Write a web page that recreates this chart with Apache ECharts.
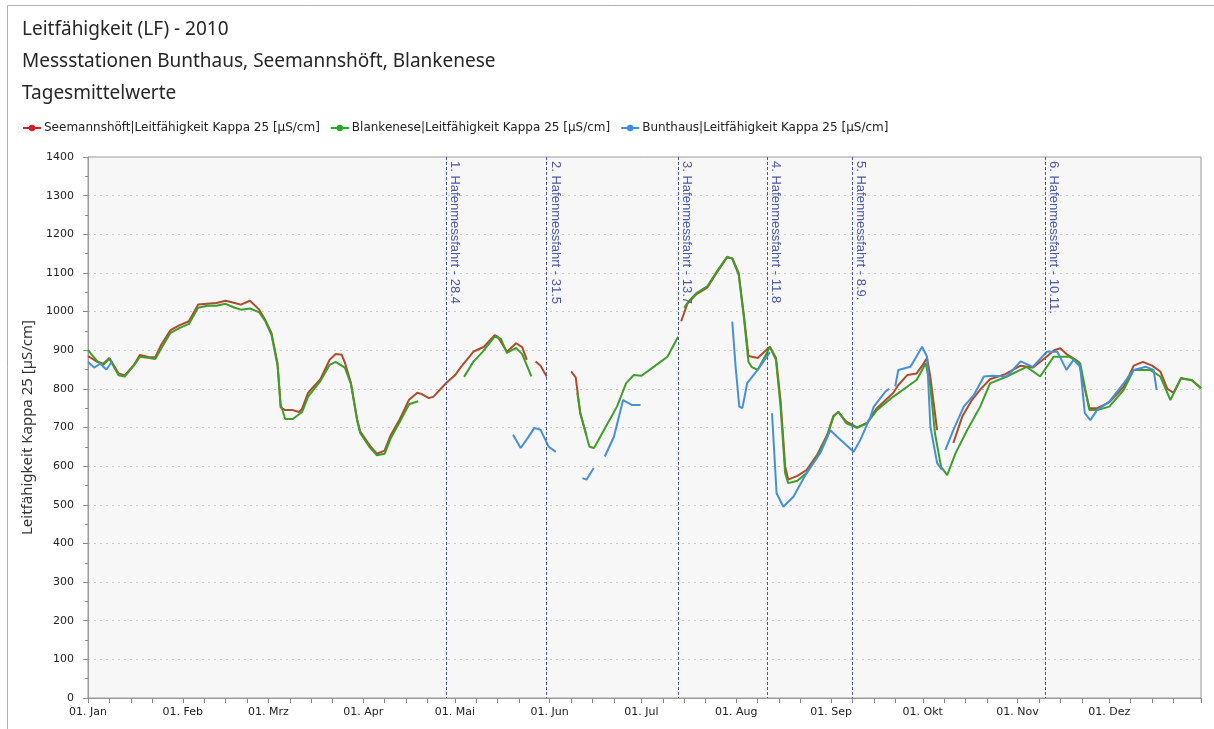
<!DOCTYPE html>
<html>
<head>
<meta charset="utf-8">
<title>Leitfähigkeit (LF) - 2010</title>
<script src="https://cdn.jsdelivr.net/npm/echarts@6/dist/echarts.min.js"></script>
<style>
  html, body { margin: 0; padding: 0; background: #ffffff; }
  #chart { width: 1214px; height: 729px; }
</style>
</head>
<body>
<div id="chart"></div>
<script>
// x values are days since 1 January 2010 (0 = 01. Jan); null breaks a line where no data exist
const monthStarts = [0, 31, 59, 90, 120, 151, 181, 212, 243, 273, 304, 334];
const monthLabels = ['01. Jan', '01. Feb', '01. Mrz', '01. Apr', '01. Mai', '01. Jun',
                     '01. Jul', '01. Aug', '01. Sep', '01. Okt', '01. Nov', '01. Dez'];

const seriesNames = [
  'Seemannshöft|Leitfähigkeit Kappa 25 [µS/cm]',
  'Blankenese|Leitfähigkeit Kappa 25 [µS/cm]',
  'Bunthaus|Leitfähigkeit Kappa 25 [µS/cm]'
];

// Seemannshöft
const seemDays = [0, 3, 5, 7, 10, 12, 15, 17, 20, 22, 24, 27, 30, 33, 36, 39, 42, 45, 48, 50, 53, 56, 58, 60, 62, 63,
  64.5, 67, 69, 70, 72, 76, 79, 81, 83, 84, 86, 88, 89, 92, 94.5, 97, 99, 102, 105, 107.7, 109, 111.5, 113, 115,
  117.5, 120, 122, 126, 129.5, 133, 134, 137, 140, 142, 143.5,
  145, 146.4, 148, 150,
  154, 158, 159.5, 161, 163,
  170, 194, 196, 199, 202.5, 206, 209, 210.7, 212.8, 214.5, 216, 219, 223, 225, 226.5, 228, 229, 232, 235, 238.5,
  241.7, 243.8, 245.4, 248, 251.5, 254.8, 258, 263.4, 265, 268, 271, 273, 274.4, 275.5, 277.7,
  280, 283, 286, 289, 292, 295, 300, 305, 309, 313, 316, 318, 320, 322, 324, 326, 327.5, 330, 334, 338.7, 342,
  345, 348, 350.7, 353, 355, 357.5, 361, 364];
const seemVals = [885, 870, 865, 880, 840, 835, 862, 888, 882, 882, 915, 952, 965, 975, 1018, 1020, 1022, 1028, 1022, 1018, 1028, 1005, 978, 945, 865, 752,
  745, 745, 740, 748, 790, 825, 875, 890, 888, 868, 815, 722, 690, 655, 632, 640, 680, 722, 772, 790, 787, 776, 780, 797,
  818, 835, 857, 896, 909, 939, 935, 896, 918, 908, 875,
  null, 871, 860, 832,
  null, 845, 830, 737, 680,
  null, 975, 1020, 1045, 1062, 1105, 1140, 1138, 1100, 990, 885, 880, 909, 880, 770, 600, 565, 575, 590, 630,
  680, 730, 740, 715, 700, 712, 750, 790, 810, 836, 840, 862, 880, 830, 693,
  null, 660, 730, 770, 800, 825, 838, 860, 855, 880, 900, 905, 890, 880, 870, 800, 750, 750, 765, 805, 860,
  870, 860, 845, 800, 790, 828, 822, 802];

// Blankenese
const blankDays = [0, 3, 5, 7, 10, 12, 15, 17, 20, 22, 24, 27, 30, 33, 36, 39, 42, 45, 48, 50, 53, 56, 58, 60, 62, 63,
  64.5, 67, 70, 72, 76, 79, 81, 84, 86, 88, 89, 92, 94.5, 97, 99, 102, 105, 108,
  115, 123, 126, 129, 133, 135, 137, 140, 142, 145,
  152, 160, 161, 164, 165.5, 168.7, 173, 176, 178.5, 181, 185, 189.5, 193,
  194, 195, 196, 199, 202.5, 206, 209, 210.7, 212.8, 214.5, 216, 217, 219, 222, 223, 225, 226.5, 228, 229, 232,
  235, 238.5, 241.7, 243.8, 245.4, 248, 251.5, 254.8, 258, 263.4, 268, 271, 274, 275.5, 277, 279, 281, 283.7,
  287.5, 291.8, 295, 300.5, 307, 311.4, 315.8, 321, 324.5, 327.5, 330, 334, 338.7, 342, 347.4, 350.7, 354,
  357.5, 361, 364];
const blankVals = [900, 872, 862, 878, 835, 832, 860, 883, 880, 877, 905, 945, 958, 968, 1010, 1015, 1015, 1020, 1010, 1005, 1008, 998, 975, 940, 860, 760,
  722, 722, 740, 780, 820, 862, 870, 855, 812, 719, 686, 650, 628, 632, 672, 715, 760, 768,
  null, 831, 870, 895, 935, 930, 893, 906, 890, 832,
  null, 790, 737, 650, 647, 693, 754, 815, 836, 834, 857, 883, 935,
  null, 1010, 1022, 1048, 1065, 1108, 1142, 1137, 1095, 985, 870, 857, 849, 893, 909, 875, 754, 582, 556, 562,
  582, 625, 676, 728, 741, 711, 699, 711, 745, 780, 806, 823, 866, 806, 685, 598, 577, 633,
  693, 754, 814, 832, 857, 832, 883, 883, 866, 745, 745, 754, 797, 849, 849, 832, 771,
  827, 823, 801];

// Bunthaus
const buntDays = [0, 2, 4, 6, 8,
  70, 139, 141.5, 144, 146, 148, 150.7, 153,
  157, 161.7, 163, 165.4,
  167, 169, 172, 175, 178, 180.7,
  195, 210.7, 211.8, 213, 214, 215.6, 219, 222, 223,
  223.5, 223.7, 225.2, 227.4, 230.7, 235, 239.5, 242.8, 245, 250.4, 252.6, 255.9, 257, 260.8, 262,
  263, 264, 265, 269, 272.8, 274.4, 275.5, 277.7, 279.3,
  280, 280.4, 283, 286.4, 289.7, 293, 296, 300.5, 305, 309, 313.6, 317, 320, 322.3, 324.5, 326, 327.8, 330,
  334, 338.7, 342, 346, 348.5, 349.5];
const buntVals = [870, 855, 865, 850, 872,
  null, 681, 647, 675, 699, 694, 650, 637,
  null, 569, 565, 595,
  null, 625, 676, 771, 758, 758,
  null, 974, 857, 754, 750, 815, 849, 883, 895,
  null, 737, 530, 495, 521, 582, 634, 693, 676, 637, 668, 728, 754, 793, 800,
  null, 806, 849, 857, 909, 883, 702, 608, 590,
  null, 642, 693, 754, 784, 832, 834, 832, 871, 857, 896, 896, 849, 875, 857, 737, 719, 745,
  767, 814, 849, 857, 849, 797];

// Hafenmessfahrten (survey trips)
const tripDays = [117, 150, 193, 222, 250, 313];
const tripLabels = ['1. Hafenmessfahrt - 28.4', '2. Hafenmessfahrt - 31.5', '3. Hafenmessfahrt - 13.7',
                    '4. Hafenmessfahrt - 11.8', '5. Hafenmessfahrt - 8.9.', '6. Hafenmessfahrt - 10.11.'];

const lineColors = ['#b04a2c', '#3d9e2a', '#4690d6'];
const legendColors = ['#d41f1f', '#1fae1f', '#3a8fe0'];

function pairs(days, vals) {
  return days.map((d, i) => [d, vals[i]]);
}

// weekly minor ticks (1st, 8th, 15th, 22nd of each month)
const tickDays = [];
monthStarts.forEach(m => { tickDays.push(m, m + 7, m + 14, m + 21); });
tickDays.push(364);

const tripLines = tripDays.map((d, i) => [
  { coord: [d, 1400], name: tripLabels[i] },
  { coord: [d, 0] }
]);

const chart = echarts.init(document.getElementById('chart'), null, { renderer: 'canvas' });

function lineSeries(i, days, vals, z) {
  return {
    name: seriesNames[i],
    type: 'line',
    data: pairs(days, vals),
    symbol: 'circle',
    symbolSize: 7,
    showSymbol: false,
    connectNulls: false,
    itemStyle: { color: lineColors[i] },
    lineStyle: { color: lineColors[i], width: 2 },
    z: z
  };
}

const blankSeries = lineSeries(1, blankDays, blankVals, 3);
blankSeries.markLine = {
  silent: true,
  symbol: ['none', 'none'],
  lineStyle: { color: '#4a56a6', type: [3, 2], width: 1 },
  label: {
    show: true,
    position: 'insideStartTop',
    distance: [4, 2],
    formatter: p => p.name,
    fontFamily: 'Liberation Sans',
    fontSize: 13,
    color: '#4a56a6'
  },
  data: tripLines
};

const option = {
  backgroundColor: '#ffffff',
  animation: false,
  title: {
    text: 'Leitfähigkeit (LF) - 2010\nMessstationen Bunthaus, Seemannshöft, Blankenese\nTagesmittelwerte',
    left: 22,
    top: 14,
    padding: 0,
    textStyle: {
      fontFamily: 'Noto Sans',
      fontSize: 19,
      fontWeight: 'normal',
      lineHeight: 32,
      color: '#262626'
    }
  },
  legend: {
    left: 22,
    top: 122,
    padding: 0,
    itemWidth: 18,
    itemHeight: 8,
    itemGap: 10,
    textStyle: { fontFamily: 'DejaVu Sans', fontSize: 12, color: '#222222', padding: [0, 0, 0, -2] },
    data: seriesNames.map((n, i) => ({
      name: n,
      itemStyle: { color: legendColors[i] },
      lineStyle: { color: legendColors[i], width: 2 }
    }))
  },
  grid: {
    left: 88,
    right: 13,
    top: 157,
    bottom: 31,
    show: true,
    backgroundColor: '#f7f7f7',
    borderColor: '#9a9a9a',
    borderWidth: 1
  },
  xAxis: {
    type: 'value',
    min: 0,
    max: 364,
    axisLine: { show: true, lineStyle: { color: '#9a9a9a' } },
    axisTick: { show: true, customValues: tickDays, length: 5, lineStyle: { color: '#8a8a8a' } },
    axisLabel: {
      customValues: monthStarts,
      formatter: v => monthLabels[monthStarts.indexOf(v)] || '',
      fontFamily: 'DejaVu Sans',
      fontSize: 11,
      color: '#222222',
      margin: 9
    },
    splitLine: { show: false }
  },
  yAxis: {
    type: 'value',
    min: 0,
    max: 1400,
    interval: 100,
    name: 'Leitfähigkeit Kappa 25 [µS/cm]',
    nameLocation: 'middle',
    nameGap: 52,
    nameRotate: 90,
    nameTextStyle: { fontFamily: 'Noto Sans', fontSize: 15, color: '#333333' },
    axisLine: { show: true, lineStyle: { color: '#9a9a9a' } },
    axisTick: { show: true, length: 5, lineStyle: { color: '#8a8a8a' } },
    minorTick: { show: true, splitNumber: 2, length: 3, lineStyle: { color: '#8a8a8a' } },
    axisLabel: {
      formatter: v => String(v),
      fontFamily: 'DejaVu Sans',
      fontSize: 11,
      color: '#222222',
      margin: 14
    },
    splitLine: { show: true, lineStyle: { color: '#c9c9c9', type: [2, 4], width: 1 } }
  },
  series: [
    lineSeries(0, seemDays, seemVals, 2),
    blankSeries,
    lineSeries(2, buntDays, buntVals, 4)
  ],
  graphic: [
    {
      type: 'rect',
      silent: true,
      shape: { x: 7.5, y: 5.5, width: 1240, height: 760 },
      style: { fill: 'none', stroke: '#b0b0b0', lineWidth: 1 }
    }
  ]
};

chart.setOption(option);
</script>
</body>
</html>
